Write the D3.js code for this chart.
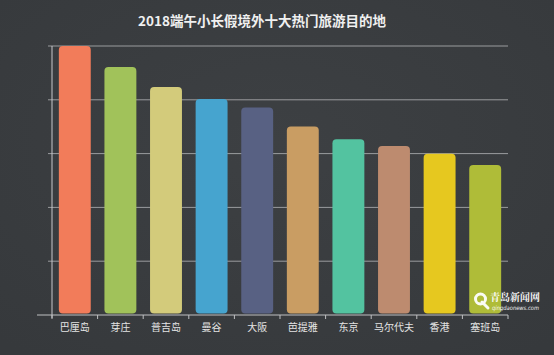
<!DOCTYPE html>
<html><head><meta charset="utf-8">
<script src="https://cdn.jsdelivr.net/npm/d3@7"></script>
<style>html,body{margin:0;padding:0;background:#3a3d40;}svg{display:block;}</style>
</head><body>
<script>
const title = "2018端午小长假境外十大热门旅游目的地";
const categories = ["巴厘岛","芽庄","普吉岛","曼谷","大阪","芭提雅","东京","马尔代夫","香港","塞班岛"];
const values = [100, 92.2, 84.8, 80.3, 77.1, 70.1, 65.3, 62.8, 59.9, 55.8];
const colors = ["#f27c5a","#a1c25a","#d3cb7b","#46a4cf","#586183","#c99d63","#53c3a0","#bd8b6f","#e6c81f","#afbc38"];
const yTicks = [0, 20, 40, 60, 80, 100];

const W = 554, H = 355;
const svg = d3.select("body").append("svg").attr("width", W).attr("height", H);
const defs = svg.append("defs");
const g = defs.append("radialGradient").attr("id","bg").attr("cx","50%").attr("cy","40%").attr("r","75%");
g.append("stop").attr("offset","0%").attr("stop-color","#3d4043");
g.append("stop").attr("offset","100%").attr("stop-color","#36393c");
svg.append("rect").attr("width",W).attr("height",H).attr("fill","url(#bg)");

const font = "'Noto Sans CJK SC','Noto Sans',sans-serif";
svg.append("text").attr("x",262).attr("y",26).attr("text-anchor","middle")
  .attr("fill","#f0f0f0").attr("font-family",font).attr("font-weight","bold").attr("font-size",13.5)
  .text(title);

const x = d3.scaleBand().domain(categories).range([52, 508]).paddingInner(0.3).paddingOuter(0.15);
const y = d3.scaleLinear().domain([0, 100]).range([315, 46]);

// gridlines
svg.append("g").selectAll("line").data(yTicks.slice(1)).join("line")
  .attr("x1",48).attr("x2",508).attr("y1",d=>y(d)).attr("y2",d=>y(d))
  .attr("stroke","#9a9c9e").attr("stroke-width",1);

// bars
svg.append("g").selectAll("rect").data(values).join("rect")
  .attr("x",(d,i)=>x(categories[i]))
  .attr("width",x.bandwidth())
  .attr("y",d=>y(d))
  .attr("height",d=>y(0)-1.5-y(d))
  .attr("rx",4).attr("ry",4)
  .attr("fill",(d,i)=>colors[i]);

// y axis line
svg.append("line").attr("x1",52).attr("x2",52).attr("y1",y(100)).attr("y2",y(0)+3)
  .attr("stroke","#c8c8cc").attr("stroke-width",1);

// x axis
const xAxis = d3.axisBottom(x).tickSize(0).tickPadding(9);
const ax = svg.append("g").attr("transform",`translate(0,${y(0)})`).call(xAxis);
ax.select(".domain").remove();
ax.selectAll("text").attr("fill","#e4e4e4").attr("font-family",font).attr("font-size",10);
svg.append("line").attr("x1",37).attr("x2",508).attr("y1",y(0)).attr("y2",y(0))
  .attr("stroke","#bfc0c2").attr("stroke-width",1);
// band boundary ticks
const bounds = categories.map(c => x(c) - x.step()*x.paddingInner()/2);
bounds[0] = 52; bounds.push(508);
svg.append("g").selectAll("line").data(bounds).join("line")
  .attr("x1",d=>d).attr("x2",d=>d).attr("y1",y(0)).attr("y2",y(0)+4)
  .attr("stroke","#bfc0c2").attr("stroke-width",1);

// watermark
const wm = svg.append("g").attr("opacity",0.95);
wm.append("circle").attr("cx",480.5).attr("cy",299).attr("r",5).attr("fill","none").attr("stroke","#ffffff").attr("stroke-width",3);
wm.append("line").attr("x1",482).attr("y1",302).attr("x2",488).attr("y2",308).attr("stroke","#ffffff").attr("stroke-width",3).attr("stroke-linecap","round");
wm.append("text").attr("x",490).attr("y",301).attr("fill","#ffffff").attr("font-family","'Noto Serif CJK SC','Noto Sans CJK SC',serif")
  .attr("font-weight","bold").attr("font-size",10).attr("textLength",50).attr("lengthAdjust","spacingAndGlyphs").text("青岛新闻网");
wm.append("text").attr("x",492).attr("y",309.5).attr("fill","#ffffff").attr("font-family","'DejaVu Sans',sans-serif")
  .attr("font-style","italic").attr("font-size",6).attr("textLength",47).attr("lengthAdjust","spacingAndGlyphs").text("qingdaonews.com");
</script>
</body></html>
